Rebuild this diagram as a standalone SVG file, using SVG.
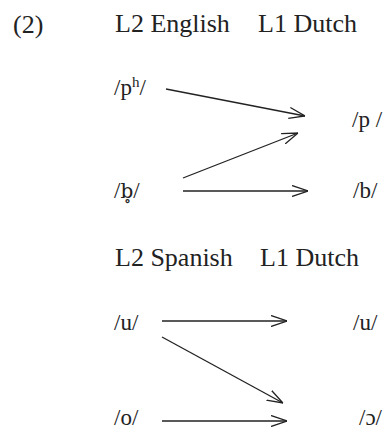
<svg xmlns="http://www.w3.org/2000/svg" width="389" height="430" viewBox="0 0 389 430" font-family="'Liberation Serif', 'Times New Roman', serif">
<style>
text{font-family:"Liberation Serif","Times New Roman",serif;font-size:23px;fill:#222}
.hd{font-size:26px}
.dj{font-family:"DejaVu Serif",serif;font-size:20px}
.c line{stroke:#222;stroke-width:1.3;fill:none}
</style>
<defs>
<marker id="ah" viewBox="0 0 16 12" refX="16" refY="6" markerWidth="16" markerHeight="12" markerUnits="userSpaceOnUse" orient="auto">
<path d="M0,0.5 L16,6 L0,11.5" fill="none" stroke="#222" stroke-width="1.3"/>
</marker>
</defs>
<rect width="389" height="430" fill="#fff"/>
<g id="label-num"><text class="hd" x="13" y="33">(2)</text></g>
<g id="h-l2-en"><text class="hd" x="115" y="32">L2 English</text></g>
<g id="h-l1-du1"><text class="hd" x="258" y="32">L1 Dutch</text></g>
<g id="n-ph"><text x="114" y="95">/p<tspan dy="-8" font-size="15">h</tspan><tspan dy="8">/</tspan></text></g>
<g id="n-p"><text x="352" y="127">/p /</text></g>
<g id="n-bv"><text x="114" y="198">/<tspan class="dj">b̥</tspan>/</text></g>
<g id="n-b"><text x="353" y="198">/b/</text></g>
<g id="h-l2-es"><text class="hd" x="115" y="266">L2 Spanish</text></g>
<g id="h-l1-du2"><text class="hd" x="260" y="266">L1 Dutch</text></g>
<g id="n-u-es"><text x="114" y="330">/u/</text></g>
<g id="n-u-du"><text x="353" y="330">/u/</text></g>
<g id="n-o"><text x="114" y="425">/o/</text></g>
<g id="n-open-o"><text x="359" y="425">/ɔ/</text></g>
<g class="c" id="connectors">
<line x1="166" y1="89" x2="305" y2="116" marker-end="url(#ah)"/>
<line x1="183" y1="178" x2="298" y2="133" marker-end="url(#ah)"/>
<line x1="183" y1="191" x2="308" y2="191" marker-end="url(#ah)"/>
<line x1="162" y1="321" x2="287" y2="321" marker-end="url(#ah)"/>
<line x1="162" y1="337" x2="283" y2="403" marker-end="url(#ah)"/>
<line x1="162" y1="421" x2="287" y2="421" marker-end="url(#ah)"/>
</g>
</svg>
